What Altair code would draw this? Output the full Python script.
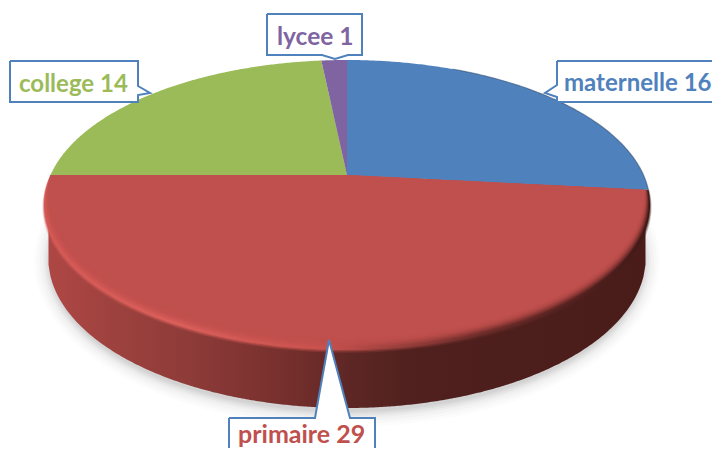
import numpy as np
import pandas as pd
import altair as alt

# ---- chart values -------------------------------------------------
categories = ["maternelle", "primaire", "college", "lycee"]
values = [16, 29, 14, 1]
colors = ["#4F81BD", "#C0504D", "#9BBB59", "#8064A2"]
text_colors = ["#4F81BD", "#C0504D", "#9BBB59", "#8064A2"]

# ---- layout constants (image pixels) -------------------------------
CX, CY, A, B, K = 347.0, 175.0, 296.5, 138.8, 0.2069
X0, X1, Y0, Y1 = 8, 712, 8, 448
BORDER = "#4F81BD"

xs = alt.Scale(domain=[X0, X1], nice=False, zero=False)
ys = alt.Scale(domain=[Y1, Y0], nice=False, zero=False)


def project(theta, r=1.0):
    u = r * np.sin(theta)
    v = -r * np.cos(theta)
    w = 1 - K * v
    return CX + A * u / w, CY + B * v / w


def spans(poly):
    """Vertical spans of a convex polygon."""
    px = np.array([p[0] for p in poly])
    py = np.array([p[1] for p in poly])
    rows = []
    for x in np.unique(np.round(px, 2)):
        hits = []
        for i in range(len(px)):
            x1, y1, x2, y2 = px[i], py[i], px[(i + 1) % len(px)], py[(i + 1) % len(px)]
            lo, hi = min(x1, x2) - 0.006, max(x1, x2) + 0.006
            if lo <= x <= hi:
                if abs(x2 - x1) < 1e-6:
                    hits += [y1, y2]
                else:
                    t = np.clip((x - x1) / (x2 - x1), 0, 1)
                    hits.append(y1 + t * (y2 - y1))
        rows.append({"x": float(x), "y": float(min(hits)), "y2": float(max(hits))})
    return pd.DataFrame(rows)


def area(df, fill, opacity=1.0):
    return alt.Chart(df).mark_area(color=fill, opacity=opacity, interpolate="linear", strokeWidth=0, clip=True).encode(
        x=alt.X("x:Q", scale=xs, axis=None),
        y=alt.Y("y:Q", scale=ys, axis=None, stack=None),
        y2="y2:Q",
    )


def hgrad(stops):
    return alt.Gradient(
        gradient="linear", x1=0, x2=1, y1=0, y2=0,
        stops=[alt.GradientStop(offset=o, color=c) for o, c in stops],
    )


def ellipse_poly(cx, cy, a, b, n=240):
    t = np.linspace(0, 2 * np.pi, n, endpoint=False)
    return list(zip(cx + a * np.cos(t), cy + b * np.sin(t)))


# wedge angles from the values
total = sum(values)
edges = np.cumsum([0] + values) / total * 2 * np.pi


def wedge(i, rfun=lambda v: 1.0, n=200):
    th = np.linspace(edges[i], edges[i + 1], n)
    pts = [(CX, CY)]
    for t in th:
        v = -np.cos(t)
        pts.append(project(t, rfun(v)))
    return pts


layers = []

# soft shadow under the disc
for d, op in [(16, 0.012), (13, 0.015), (10, 0.02), (7, 0.025), (5, 0.03), (3, 0.035), (1, 0.04)]:
    layers.append(area(spans(ellipse_poly(CX, 261, 297 + d, 150 + d)), "#000000", op))

# side wall: from the rim of the top face to the lower ellipse
wx = np.linspace(48.5, 645.5, 300)
upper_y = 205 + 145 * np.sqrt(np.clip(1 - ((wx - CX) / 303) ** 2, 0, 1))
lower_y = 258 + 150 * np.sqrt(np.clip(1 - ((wx - CX) / 298.8) ** 2, 0, 1))
wall = pd.DataFrame({"x": wx, "y": upper_y - 8, "y2": lower_y})
layers.append(area(wall, hgrad([
    (0.00, "#AE4744"), (0.12, "#9C413E"), (0.25, "#8C3A38"), (0.42, "#722E2B"),
    (0.50, "#5E2725"), (0.62, "#4F201D"), (1.00, "#491C1A"),
])))

bevel_stops = [
    (0.00, "#D45955"), (0.22, "#DB5F5B"), (0.46, "#C9524E"), (0.58, "#9A403D"),
    (0.72, "#6E2C2A"), (1.00, "#3F1916"),
]

# bevel: the whole red wedge up to the rim, with a soft outer edge over the wall
for c, op in [(-0.012, 0.25), (-0.006, 0.5)]:
    layers.append(area(spans(wedge(1, lambda v, c=c: 1 - c * max(v, 0) ** 0.6)), hgrad(bevel_stops), op))
layers.append(area(spans(wedge(1)), hgrad(bevel_stops)))

# blended transition from bevel to face
for c, op in [(0.010, 0.18), (0.016, 0.25), (0.022, 0.3), (0.028, 0.35), (0.034, 0.45), (0.040, 0.5), (0.047, 0.6)]:
    layers.append(area(spans(wedge(1, lambda v, c=c: 1 - c * max(v, 0) ** 0.6)), colors[1], op))

# top faces
rows = []
for i, name in enumerate(categories):
    rfun = (lambda v: 1 - 0.055 * max(v, 0) ** 0.6) if name == "primaire" else (lambda v: 1.0)
    s = spans(wedge(i, rfun))
    s["category"] = name
    rows.append(s)
faces = pd.concat(rows, ignore_index=True)
layers.append(
    alt.Chart(faces).mark_area(interpolate="linear", strokeWidth=0).encode(
        x=alt.X("x:Q", scale=xs, axis=None),
        y=alt.Y("y:Q", scale=ys, axis=None, stack=None),
        y2="y2:Q",
        color=alt.Color("category:N", scale=alt.Scale(domain=categories, range=colors), legend=None),
    )
)

# dark rim on the blue slice
th = np.linspace(np.radians(25), edges[1], 80)
rim = pd.DataFrame([{"x": project(t)[0], "y": project(t)[1], "o": i} for i, t in enumerate(th)])
layers.append(
    alt.Chart(rim).mark_line(color="#2B4566", strokeWidth=1.2, opacity=0.5).encode(
        x=alt.X("x:Q", scale=xs, axis=None),
        y=alt.Y("y:Q", scale=ys, axis=None),
        order="o:Q",
    )
)

# callouts: box (l, t, r, b) and pointer (base1, tip, base2)
callouts = [
    (267, 14, 362, 55, (322, 55), (335, 59), (348, 55)),
    (10, 61, 138, 102, (138, 86), (150, 93), (138, 95)),
    (557, 61, 735, 102, (557, 85), (545, 93), (557, 97)),
    (229, 418, 375, 475, (315, 418), (329, 340), (350, 418)),
]
labels = [
    ("lycee 1", 277, 45, 3, 24.5),
    ("college 14", 19, 92, 2, 24),
    ("maternelle 16", 564, 91, 0, 24),
    ("primaire 29", 238, 443, 1, 25),
]
for (l, t, r, b, p1, tip, p2) in callouts:
    layers.append(area(spans([(l, t), (r, t), (r, b), (l, b)]), "#FFFFFF"))
    layers.append(area(spans([p1, tip, p2]), "#FFFFFF"))
    if tip[1] < t:      # pointer on the top edge
        path = [(l, t), p1, tip, p2, (r, t), (r, b), (l, b), (l, t)]
    elif tip[1] > b:    # pointer on the bottom edge
        path = [(l, t), (r, t), (r, b), p2, tip, p1, (l, b), (l, t)]
    elif tip[0] > r:    # pointer on the right edge
        path = [(l, t), (r, t), p1, tip, p2, (r, b), (l, b), (l, t)]
    else:               # pointer on the left edge
        path = [(l, t), (r, t), (r, b), (l, b), p2, tip, p1, (l, t)]
    outline = pd.DataFrame([{"x": a, "y": c, "o": i} for i, (a, c) in enumerate(path)])
    layers.append(
        alt.Chart(outline).mark_line(color=BORDER, strokeWidth=2, strokeJoin="miter", clip=True).encode(
            x=alt.X("x:Q", scale=xs, axis=None),
            y=alt.Y("y:Q", scale=ys, axis=None),
            order="o:Q",
        )
    )

lab = pd.DataFrame([{"t": t, "x": x, "y": y, "c": text_colors[i], "s": s} for t, x, y, i, s in labels])
layers.append(
    alt.Chart(lab).mark_text(font="Lato", fontWeight="bold", align="left", baseline="alphabetic").encode(
        x=alt.X("x:Q", scale=xs, axis=None),
        y=alt.Y("y:Q", scale=ys, axis=None),
        text="t:N",
        color=alt.Color("c:N", scale=None),
        size=alt.Size("s:Q", scale=None),
    )
)

chart = alt.layer(*layers).properties(
    width=X1 - X0, height=Y1 - Y0, padding=0, background="#FFFFFF"
).configure_view(stroke=None)

chart.save("out.html", embed_options={"renderer": "svg", "actions": False})
